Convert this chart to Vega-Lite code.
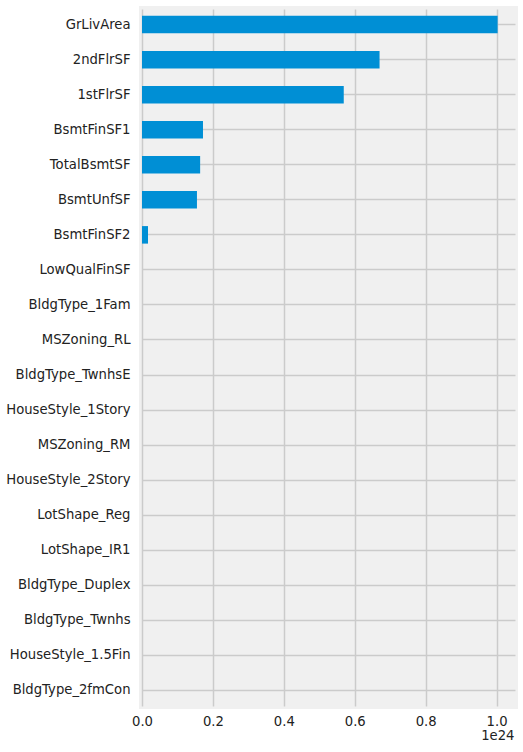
{
  "$schema": "https://vega.github.io/schema/vega-lite/v6.json",
  "autosize": {"type": "none"},
  "width": 373,
  "height": 697,
  "padding": {"left": 142, "top": 9, "right": 8, "bottom": 46},
  "background": "#ffffff",
  "config": {
    "view": {"fill": "#f0f0f0", "stroke": "#f0f0f0", "strokeWidth": 6},
    "font": "DejaVu Sans"
  },
  "data": {
    "values": [
      {"feature": "GrLivArea", "value": 1.003},
      {"feature": "2ndFlrSF", "value": 0.670},
      {"feature": "1stFlrSF", "value": 0.569},
      {"feature": "BsmtFinSF1", "value": 0.172},
      {"feature": "TotalBsmtSF", "value": 0.164},
      {"feature": "BsmtUnfSF", "value": 0.155},
      {"feature": "BsmtFinSF2", "value": 0.017},
      {"feature": "LowQualFinSF", "value": 0.0},
      {"feature": "BldgType_1Fam", "value": 0.0},
      {"feature": "MSZoning_RL", "value": 0.0},
      {"feature": "BldgType_TwnhsE", "value": 0.0},
      {"feature": "HouseStyle_1Story", "value": 0.0},
      {"feature": "MSZoning_RM", "value": 0.0},
      {"feature": "HouseStyle_2Story", "value": 0.0},
      {"feature": "LotShape_Reg", "value": 0.0},
      {"feature": "LotShape_IR1", "value": 0.0},
      {"feature": "BldgType_Duplex", "value": 0.0},
      {"feature": "BldgType_Twnhs", "value": 0.0},
      {"feature": "HouseStyle_1.5Fin", "value": 0.0},
      {"feature": "BldgType_2fmCon", "value": 0.0}
    ]
  },
  "mark": {"type": "bar", "color": "#008fd5"},
  "encoding": {
    "y": {
      "field": "feature",
      "type": "nominal",
      "sort": null,
      "scale": {"paddingInner": 0.5, "paddingOuter": 0.195},
      "axis": {
        "title": null,
        "domain": false,
        "ticks": false,
        "bandPosition": 0.5,
        "grid": true,
        "gridColor": "#cbcbcb",
        "gridWidth": 1.5,
        "labelFont": "DejaVu Sans",
        "labelFontSize": 13.2,
        "labelColor": "#222222",
        "labelPadding": 12,
        "labelLimit": 200
      }
    },
    "x": {
      "field": "value",
      "type": "quantitative",
      "scale": {"domain": [0, 1.052], "nice": false, "zero": true},
      "axis": {
        "title": "1e24",
        "titleAnchor": "end",
        "titleAlign": "right",
        "titleFont": "DejaVu Sans",
        "titleFontSize": 13.2,
        "titleFontWeight": "normal",
        "titleColor": "#222222",
        "titlePadding": 2,
        "titleX": 372,
        "values": [0, 0.2, 0.4, 0.6, 0.8, 1.0],
        "format": ".1f",
        "labelFlush": false,
        "domain": false,
        "ticks": false,
        "grid": true,
        "gridColor": "#cbcbcb",
        "gridWidth": 1.5,
        "labelFont": "DejaVu Sans",
        "labelFontSize": 13.2,
        "labelColor": "#222222",
        "labelPadding": 9
      }
    }
  }
}
